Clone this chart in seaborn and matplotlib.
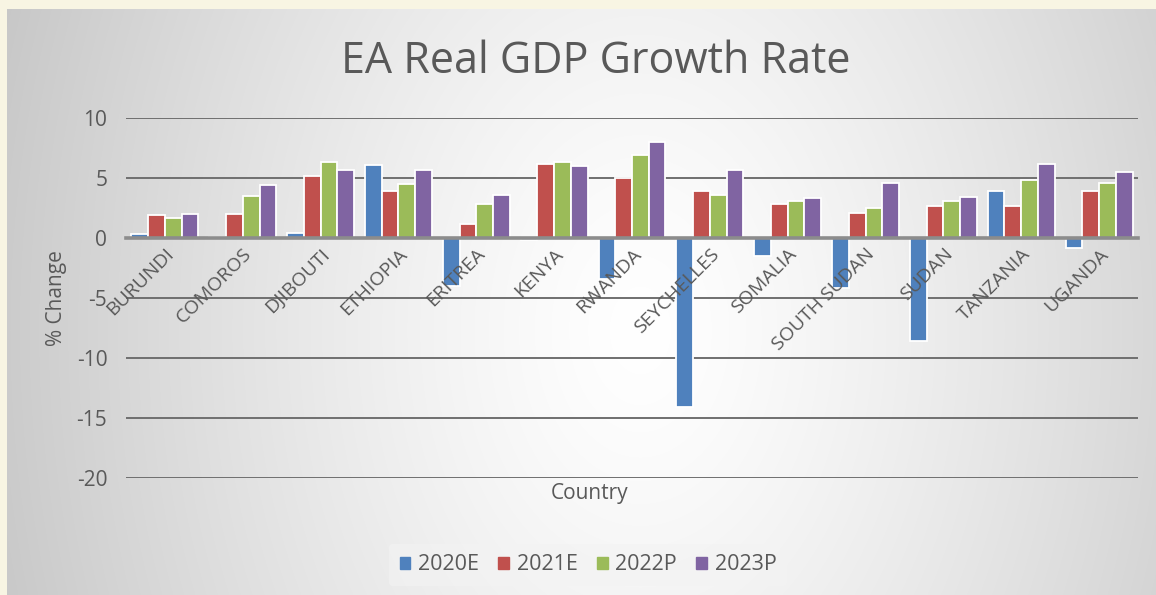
import numpy as np
import pandas as pd
import matplotlib.pyplot as plt
import seaborn as sns

# data
countries = ["BURUNDI", "COMOROS", "DJIBOUTI", "ETHIOPIA", "ERITREA", "KENYA", "RWANDA",
             "SEYCHELLES", "SOMALIA", "SOUTH SUDAN", "SUDAN", "TANZANIA", "UGANDA"]
years = ["2020E", "2021E", "2022P", "2023P"]
g2020 = [0.3, 0.1, 0.4, 6.1, -4.0, -0.2, -3.4, -14.1, -1.5, -4.2, -8.6, 3.9, -0.8]
g2021 = [1.9, 2.0, 5.2, 3.9, 1.2, 6.2, 5.0, 3.9, 2.8, 2.1, 2.7, 2.7, 3.9]
g2022 = [1.7, 3.5, 6.3, 4.5, 2.8, 6.3, 6.9, 3.6, 3.1, 2.5, 3.1, 4.8, 4.6]
g2023 = [2.0, 4.4, 5.7, 5.7, 3.6, 6.0, 8.0, 5.7, 3.3, 4.6, 3.4, 6.2, 5.5]
colors = ["#4F81BD", "#C0504D", "#9BBB59", "#8064A2"]

df = pd.DataFrame({"Country": countries * 4,
                   "Year": np.repeat(years, len(countries)),
                   "Growth": g2020 + g2021 + g2022 + g2023})

sns.set_theme(style="white")
plt.rcParams["font.family"] = ["Open Sans", "DejaVu Sans"]
plt.rcParams["axes.unicode_minus"] = False
txt = "#595959"

fig = plt.figure(figsize=(11.56, 5.95), dpi=100, facecolor="#f8f5e3")

# gradient background of the chart area
bg = fig.add_axes([7 / 1156, 0, 1 - 7 / 1156, 586 / 595])
h, w = 586, 1149
yy, xx = np.mgrid[0:h, 0:w]
r = np.sqrt(((xx + 7 - 640) / 630) ** 2 + ((yy + 9 - 330) / 900) ** 2)
shade = 1 - 0.2 * np.clip(r, 0, 1.2) ** 1.3
bg.imshow(np.dstack([shade] * 3), aspect="auto", extent=[0, 1, 0, 1], zorder=0)
bg.set_axis_off()

ax = fig.add_axes([126 / 1156, 117 / 595, 1012 / 1156, 360 / 595])
ax.patch.set_alpha(0)

sns.barplot(data=df, x="Country", y="Growth", hue="Year", palette=colors, saturation=1,
            width=0.86, edgecolor="white", linewidth=1.3, ax=ax, zorder=3)

ax.set_ylim(-20, 10)
ax.set_xlim(-0.5, len(countries) - 0.5)
ax.set_yticks([-20, -15, -10, -5, 0, 5, 10])
ax.yaxis.grid(True, color="#6f6f6f", linewidth=1.4)
ax.set_axisbelow(True)
ax.xaxis.set_zorder(5)  # country labels sit on top of the bars
for s in ["top", "right", "left"]:
    ax.spines[s].set_visible(False)
ax.spines["bottom"].set_position(("data", 0))
ax.spines["bottom"].set_color("#8c8c8c")
ax.spines["bottom"].set_linewidth(2.6)
ax.spines["bottom"].set_zorder(4)

# category boundary tick marks like the original
ax.set_xticks(np.arange(-0.5, len(countries)), minor=True)
ax.tick_params(axis="x", which="minor", length=6, width=2.5, color="#6f6f6f", direction="out")
ax.tick_params(axis="x", which="major", length=0, pad=5)
ax.tick_params(axis="y", length=0, pad=13.5, labelsize=15, labelcolor=txt)
ax.set_xticks(range(len(countries)))
ax.set_xticklabels(countries, rotation=45, ha="right", rotation_mode="anchor",
                   fontsize=14, color=txt)

ax.set_xlabel("")
ax.set_ylabel("% Change", fontsize=15, color=txt, labelpad=7)
fig.text(590 / 1156, 1 - 493 / 595, "Country", fontsize=15, color=txt, ha="center", va="center")
fig.text(596 / 1156, 1 - 62 / 595, "EA Real GDP Growth Rate", fontsize=31, color=txt,
         ha="center", va="center")

ax.legend_.remove()
handles = [plt.Rectangle((0, 0), 1, 1, color=c) for c in colors]
leg = fig.legend(handles, years, loc="center", bbox_to_anchor=(588 / 1156, 1 - 565 / 595),
                 ncol=4, frameon=True, fontsize=15.5, handlelength=0.5, handleheight=0.5,
                 handletextpad=0.35, columnspacing=0.9, borderpad=0.5)
leg.get_frame().set_facecolor("#f3f3f3")
leg.get_frame().set_edgecolor("none")
leg.get_frame().set_alpha(0.6)
for t in leg.get_texts():
    t.set_color(txt)

fig.savefig("out.png", dpi=100, facecolor=fig.get_facecolor())
